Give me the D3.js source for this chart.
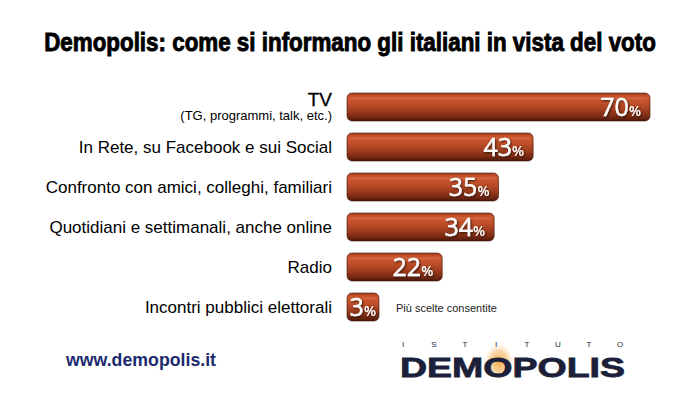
<!DOCTYPE html>
<html><head><meta charset="utf-8">
<script src="https://cdn.jsdelivr.net/npm/d3@7"></script>
<style>
body{margin:0;background:#fff;}
svg{display:block;}
</style></head>
<body>
<script>
const categories = ["TV","In Rete, su Facebook e sui Social","Confronto con amici, colleghi, familiari","Quotidiani e settimanali, anche online","Radio","Incontri pubblici elettorali"];
const subLabels = ["(TG, programmi, talk, etc.)","","","","",""];
const values = [70,43,35,34,22,3];
const title = "Demopolis: come si informano gli italiani in vista del voto";
const note = "Più scelte consentite";
const site = "www.demopolis.it";

const W=700,H=395;
const svg=d3.select("body").append("svg").attr("width",W).attr("height",H);
const defs=svg.append("defs");
const g=defs.append("linearGradient").attr("id","barg").attr("x1",0).attr("y1",0).attr("x2",0).attr("y2",1);
[[0,"#a8401f"],[0.15,"#c9572f"],[0.35,"#c2502a"],[0.6,"#a33f20"],[0.85,"#7a2a12"],[1,"#4a160a"]].forEach(s=>g.append("stop").attr("offset",s[0]).attr("stop-color",s[1]));
const glow=defs.append("radialGradient").attr("id","glow");
glow.append("stop").attr("offset",0).attr("stop-color","#f2a23a").attr("stop-opacity",0.95);
glow.append("stop").attr("offset",0.6).attr("stop-color","#f5c27a").attr("stop-opacity",0.6);
glow.append("stop").attr("offset",1).attr("stop-color","#fff").attr("stop-opacity",0);
const sh=defs.append("filter").attr("id","ts").attr("x","-20%").attr("y","-20%").attr("width","140%").attr("height","140%");
sh.append("feDropShadow").attr("dx",1).attr("dy",1).attr("stdDeviation",0.8).attr("flood-color","#000").attr("flood-opacity",0.7);

const tg=svg.append("g");
const tt=tg.append("text").attr("x",0).attr("y",0).attr("text-anchor","middle")
  .attr("font-family","Liberation Sans Narrow, Liberation Sans, Arial").attr("font-weight","bold")
  .attr("font-size",25)
  .attr("fill","#000").attr("stroke","#000").attr("stroke-width",0.9).text(title);
const tw=tt.node().getComputedTextLength();
tg.attr("transform",`translate(350,51) scale(${612/tw},1)`);

const x=d3.scaleLinear().domain([0,70]).range([347,650]);
const y=d3.scaleBand().domain(categories).range([87,327]).paddingInner(0.3).paddingOuter(0.15);
const minW=32;
const bw=(i)=>Math.max(x(values[i])-x(0),minW);

const rows=svg.append("g").selectAll("g").data(categories).join("g");
rows.append("rect")
  .attr("x",x(0)).attr("y",d=>y(d)).attr("height",y.bandwidth())
  .attr("width",(d,i)=>bw(i))
  .attr("rx",5).attr("ry",5).attr("fill","url(#barg)")
  .attr("stroke","#3a1006").attr("stroke-width",0.6);
rows.append("rect")
  .attr("x",x(0)+3).attr("y",d=>y(d)+4).attr("height",3)
  .attr("width",(d,i)=>bw(i)-6)
  .attr("rx",1.5).attr("fill","#e0764c").attr("opacity",0.35);

const lab=rows.append("text")
  .attr("x",(d,i)=>x(0)+bw(i)-(values[i]<10?3:9))
  .attr("y",d=>y(d)+y.bandwidth()/2+9)
  .attr("text-anchor","end").attr("fill","#fff").attr("filter","url(#ts)")
  .attr("font-family","Open Sans, Liberation Sans, sans-serif");
lab.append("tspan").attr("font-size",25).attr("font-weight",400).attr("stroke","#fff").attr("stroke-width",0.4).text((d,i)=>values[i]);
lab.append("tspan").attr("font-size",14).attr("font-weight",600).text("%");

rows.append("text")
  .attr("x",332).attr("y",(d,i)=>subLabels[i]? y(d)+y.bandwidth()/2-1 : y(d)+y.bandwidth()/2+5.5)
  .attr("text-anchor","end").attr("fill","#000")
  .attr("font-family","Liberation Sans, Arial, sans-serif")
  .attr("font-size",(d,i)=>subLabels[i]?19:17)
  .attr("stroke",(d,i)=>subLabels[i]?"#000":"none").attr("stroke-width",0.3)
  .text(d=>d);
rows.filter((d,i)=>subLabels[i]).append("text")
  .attr("x",332).attr("y",d=>y(d)+y.bandwidth()/2+13)
  .attr("text-anchor","end").attr("fill","#000")
  .attr("font-family","Liberation Sans, Arial, sans-serif").attr("font-size",13)
  .text((d)=>subLabels[categories.indexOf(d)]);

svg.append("text").attr("x",396).attr("y",312).attr("font-family","Liberation Sans, Arial, sans-serif")
  .attr("font-size",11).attr("fill","#222").text(note);

svg.append("text").attr("x",66).attr("y",366).attr("font-family","Liberation Sans, Arial, sans-serif")
  .attr("font-weight","bold").attr("font-size",17.5).attr("fill","#1c2a6e")
  .attr("textLength",150).attr("lengthAdjust","spacingAndGlyphs").text(site);

// logo
svg.append("ellipse").attr("cx",499).attr("cy",362).attr("rx",16).attr("ry",20).attr("fill","url(#glow)");
const ist="ISTITUTO".split("");
const lx=d3.scalePoint().domain(d3.range(ist.length)).range([403,620]);
svg.append("g").selectAll("text").data(ist).join("text")
  .attr("x",(d,i)=>lx(i)).attr("y",347).attr("text-anchor","middle")
  .attr("font-family","Liberation Sans, Arial, sans-serif").attr("font-size",8).attr("fill","#1c1f3a").text(d=>d);
svg.append("text").attr("x",400).attr("y",377)
  .attr("font-family","Liberation Sans, Arial, sans-serif").attr("font-weight","bold")
  .attr("font-size",28).attr("fill","#1c1f3a").attr("stroke","#1c1f3a").attr("stroke-width",0.8)
  .attr("textLength",225).attr("lengthAdjust","spacingAndGlyphs").text("DEMOPOLIS");
</script>
</body></html>
